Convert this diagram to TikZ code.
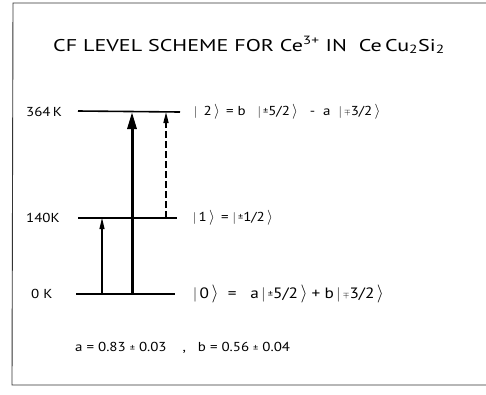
\documentclass[tikz,border=0pt]{standalone}
\usepackage{fontspec}
\setmainfont{PT Sans}[FakeStretch=1.15]
\usetikzlibrary{arrows.meta}
\tikzset{
  lbl/.style={inner sep=0pt, font=\fontsize{13}{15}\selectfont},
  biglbl/.style={inner sep=0pt, font=\fontsize{15}{17}\selectfont},
  level/.style={line width=1.6pt},
  frameline/.style={line width=0.9pt, black!80},
  thinarrow/.style={line width=1.2pt, -{Triangle[length=11pt,width=5pt]}},
  thickarrow/.style={line width=3pt, -{Triangle[length=17pt,width=9pt]}},
  dasharrow/.style={line width=1.4pt, dash pattern=on 7pt off 3pt, -{Triangle[length=11pt,width=5pt]}}
}
\newcommand{\rang}{\raisebox{-0.5pt}{\scalebox{1.25}{$\rangle$}}}
\newcommand{\ket}[1]{$|$\,#1\,\rang}
\newcommand{\ketw}[1]{$|$\ \,#1\,\rang}
\newcommand{\pmt}{\raisebox{0.5pt}{\small\char"00B1}}
\newcommand{\mpt}{\raisebox{0.5pt}{\footnotesize$\mp$}}
\begin{document}
\begin{tikzpicture}[x=1pt,y=-1pt]
\useasboundingbox (0,0) rectangle (486,394);
% frame (open at right)
\draw[frameline] (486,3) -- (13,3) -- (12,385) -- (486,385);
% title
\node[inner sep=0pt, font=\fontsize{17}{20}\selectfont] (title) at (249,45)
  {\scalebox{1.13}[1]{CF LEVEL SCHEME FOR Ce\textsuperscript{3+} IN\ \ Ce\,Cu\textsubscript{2}Si\textsubscript{2}}};
% levels
\coordinate (L2a) at (78,111); \coordinate (L2b) at (180,112);
\coordinate (L1a) at (78,218); \coordinate (L1b) at (177,218);
\coordinate (L0a) at (76,294); \coordinate (L0b) at (175,294);
\draw[level] (L2a) -- (L2b);
\draw[level] (L1a) -- (L1b);
\draw[level] (L0a) -- (L0b);
% energy labels
\node[lbl, anchor=west] (E2) at (26,112) {364\,K};
\node[lbl, anchor=west] (E1) at (26,218) {140K};
\node[lbl, anchor=west] (E0) at (31,294) {0 K};
% state labels
\node[lbl, anchor=west] (S2) at (194,112) {\ketw{2} \,= b \ \ \ket{\pmt5/2} \ \ - \ a \ \ket{\mpt3/2}};
\node[lbl, anchor=west] (S1) at (193,218) {\ket{1} \,= \ket{\pmt1/2}};
\node[biglbl, anchor=west] (S0) at (193,294) {\ket{0} \ = \ \ a\,\ket{\pmt5/2}\;+\;b\,\ket{\mpt3/2}};
% coefficients
\node[lbl, anchor=west] (coef) at (75,348) {a = 0.83 \pmt\ 0.03 \ \ \ , \ \ b = 0.56 \pmt\ 0.04};
% arrows
\coordinate (A1s) at (102,294); \coordinate (A1e) at (102,218);
\coordinate (A2s) at (132,294); \coordinate (A2e) at (132,112);
\coordinate (A3s) at (166,218); \coordinate (A3e) at (166,112);
\draw[thinarrow] (A1s) -- (A1e);
\draw[thickarrow] (A2s) -- (A2e);
\draw[dasharrow] (A3s) -- (A3e);
\end{tikzpicture}
\end{document}
